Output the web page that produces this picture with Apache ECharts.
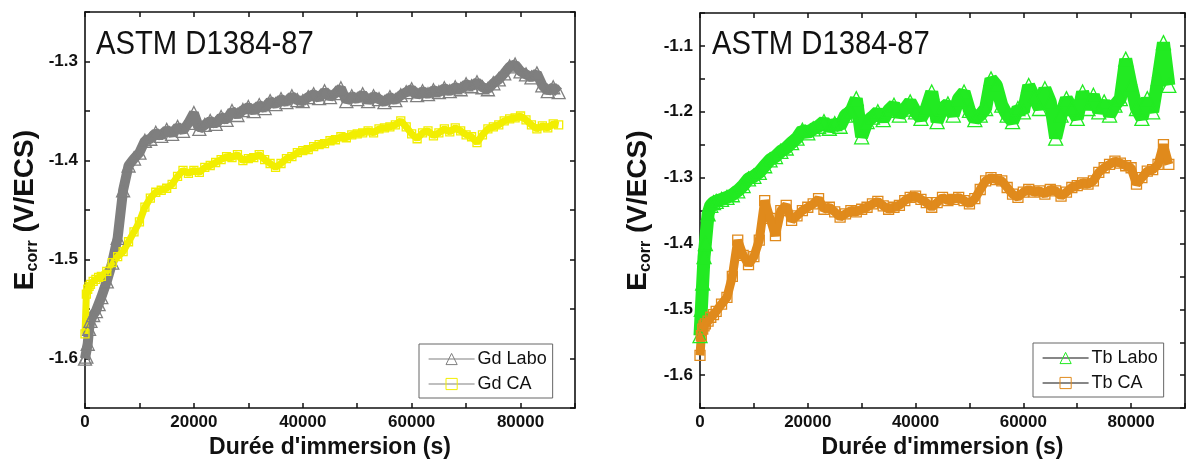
<!DOCTYPE html>
<html>
<head>
<meta charset="utf-8">
<script src="https://cdn.jsdelivr.net/npm/echarts@6/dist/echarts.min.js"></script>
<style>
html,body{margin:0;padding:0;background:#fff;}
#c{width:1188px;height:464px;}
</style>
</head>
<body>
<div id="c"></div>
<script>
// Time (s) of each sample
const times = [0,250,500,750,1000,1500,2000,2500,3000,
4000,5000,6000,7000,8000,9000,10000,11000,12000,13000,14000,15000,16000,17000,18000,19000,
20000,21000,22000,23000,24000,25000,26000,27000,28000,29000,30000,31000,32000,33000,34000,
35000,36000,37000,38000,39000,40000,41000,42000,43000,44000,45000,46000,47000,48000,49000,
50000,51000,52000,53000,54000,55000,56000,57000,58000,59000,60000,61000,62000,63000,64000,
65000,66000,67000,68000,69000,70000,71000,72000,73000,74000,75000,76000,77000,78000,79000,
80000,81000,82000,83000,84000,85000,86000,87000];

// Left chart: Ecorr (V/ECS)
const gdLabo = [-1.600,-1.598,-1.585,-1.570,-1.562,-1.556,-1.552,-1.545,-1.538,
-1.522,-1.503,-1.478,-1.430,-1.405,-1.398,-1.392,-1.380,-1.378,-1.372,-1.375,-1.369,-1.373,-1.366,-1.370,-1.362,
-1.352,-1.368,-1.364,-1.360,-1.363,-1.356,-1.359,-1.350,-1.354,-1.349,-1.346,-1.350,-1.344,-1.347,-1.340,
-1.343,-1.338,-1.341,-1.335,-1.339,-1.340,-1.336,-1.333,-1.337,-1.330,-1.336,-1.332,-1.327,-1.340,-1.335,
-1.338,-1.333,-1.340,-1.335,-1.338,-1.341,-1.336,-1.339,-1.334,-1.331,-1.328,-1.334,-1.330,-1.333,-1.329,
-1.331,-1.327,-1.330,-1.326,-1.328,-1.323,-1.325,-1.321,-1.326,-1.328,-1.322,-1.318,-1.312,-1.305,-1.303,
-1.310,-1.313,-1.316,-1.312,-1.324,-1.330,-1.326,-1.331];

const gdCA = [-1.575,-1.535,-1.530,-1.527,-1.525,-1.522,-1.520,-1.518,-1.517,
-1.512,-1.503,-1.497,-1.492,-1.482,-1.472,-1.462,-1.447,-1.438,-1.432,-1.430,-1.428,-1.424,-1.416,-1.410,-1.413,
-1.410,-1.412,-1.407,-1.405,-1.402,-1.399,-1.396,-1.397,-1.394,-1.400,-1.398,-1.397,-1.394,-1.399,-1.403,
-1.407,-1.403,-1.398,-1.396,-1.392,-1.390,-1.389,-1.386,-1.384,-1.383,-1.380,-1.379,-1.376,-1.377,-1.374,
-1.373,-1.372,-1.370,-1.372,-1.368,-1.367,-1.366,-1.364,-1.360,-1.366,-1.373,-1.378,-1.372,-1.370,-1.375,
-1.372,-1.368,-1.371,-1.367,-1.370,-1.374,-1.376,-1.382,-1.374,-1.368,-1.366,-1.364,-1.360,-1.358,-1.357,
-1.355,-1.359,-1.364,-1.368,-1.365,-1.367,-1.363,-1.364];

// Right chart: Ecorr (V/ECS)
const tbLabo = [-1.540,-1.500,-1.460,-1.420,-1.400,-1.355,-1.342,-1.338,-1.336,
-1.333,-1.330,-1.326,-1.320,-1.312,-1.302,-1.298,-1.292,-1.282,-1.273,-1.268,-1.260,-1.255,-1.247,-1.240,-1.228,
-1.232,-1.226,-1.222,-1.215,-1.225,-1.218,-1.222,-1.205,-1.200,-1.180,-1.238,-1.215,-1.208,-1.200,-1.212,
-1.198,-1.190,-1.205,-1.196,-1.185,-1.200,-1.210,-1.195,-1.170,-1.215,-1.195,-1.188,-1.205,-1.180,-1.170,
-1.198,-1.212,-1.205,-1.195,-1.150,-1.160,-1.190,-1.205,-1.215,-1.195,-1.200,-1.160,-1.178,-1.195,-1.165,
-1.185,-1.240,-1.205,-1.180,-1.195,-1.210,-1.170,-1.195,-1.175,-1.200,-1.185,-1.205,-1.190,-1.180,-1.120,
-1.160,-1.195,-1.210,-1.180,-1.200,-1.150,-1.095,-1.160];

const tbCA = [-1.570,-1.540,-1.530,-1.525,-1.522,-1.518,-1.512,-1.508,-1.503,
-1.492,-1.482,-1.450,-1.395,-1.418,-1.432,-1.420,-1.395,-1.335,-1.362,-1.388,-1.350,-1.342,-1.365,-1.358,-1.350,
-1.345,-1.340,-1.332,-1.348,-1.345,-1.352,-1.360,-1.355,-1.350,-1.352,-1.348,-1.345,-1.340,-1.336,-1.343,
-1.348,-1.345,-1.342,-1.335,-1.330,-1.328,-1.333,-1.338,-1.345,-1.338,-1.330,-1.335,-1.333,-1.330,-1.335,
-1.340,-1.332,-1.318,-1.305,-1.300,-1.303,-1.305,-1.315,-1.325,-1.330,-1.322,-1.318,-1.322,-1.320,-1.325,
-1.318,-1.320,-1.328,-1.322,-1.315,-1.312,-1.308,-1.310,-1.305,-1.292,-1.285,-1.280,-1.275,-1.278,-1.282,
-1.285,-1.310,-1.300,-1.290,-1.288,-1.280,-1.250,-1.280];

const xTickLabels = [0, 20000, 40000, 60000, 80000];
const leftYTickLabels = [-1.6, -1.5, -1.4, -1.3];
const rightYTickLabels = [-1.6, -1.5, -1.4, -1.3, -1.2, -1.1];
const titleText = 'ASTM D1384-87';
const xName = "Durée d'immersion (s)";

const FONT = '"Liberation Sans", Arial, sans-serif';
const pair = (ys) => times.map((t, i) => [t, ys[i]]);
const hasLabel = (list, v) => list.some(l => Math.abs(l - v) < 1e-6);

function xAxes(gi) {
  const common = {
    type: 'value', gridIndex: gi, min: 0, max: 90000, interval: 10000,
    splitLine: { show: false },
    axisLine: { show: true, onZero: false, lineStyle: { color: '#111', width: 1.6 } },
    axisTick: { show: true, inside: true, length: 5, lineStyle: { color: '#111', width: 1.5 } }
  };
  return [
    Object.assign({}, common, {
      position: 'bottom',
      name: xName, nameLocation: 'middle', nameGap: 25,
      nameTextStyle: { fontFamily: FONT, fontSize: 23, fontWeight: 'bold', color: '#111' },
      axisLabel: { margin: 6, fontFamily: FONT, fontSize: 17, fontWeight: 'bold', color: '#111',
        formatter: v => hasLabel(xTickLabels, v) ? String(v) : '' }
    }),
    Object.assign({}, common, { position: 'top', axisLabel: { show: false } })
  ];
}

function yAxes(gi, min, max, labels, gap) {
  const common = {
    type: 'value', gridIndex: gi, min: min, max: max, interval: 0.05,
    splitLine: { show: false },
    axisLine: { show: true, onZero: false, lineStyle: { color: '#111', width: 1.6 } },
    axisTick: { show: true, inside: true, length: 5, lineStyle: { color: '#111', width: 1.5 } }
  };
  return [
    Object.assign({}, common, {
      position: 'left',
      name: '{e|E}{s|corr}{e| (V/ECS)}', nameLocation: 'middle', nameGap: gap, nameRotate: 90,
      nameTextStyle: { color: '#111', rich: {
        e: { fontFamily: FONT, fontSize: 28, fontWeight: 'bold', color: '#111', lineHeight: 32 },
        s: { fontFamily: FONT, fontSize: 16, fontWeight: 'bold', color: '#111', verticalAlign: 'bottom', lineHeight: 32, padding: [12, 0, 0, 0] }
      } },
      axisLabel: { margin: 7, fontFamily: FONT, fontSize: 17, fontWeight: 'bold', color: '#111',
        formatter: v => hasLabel(labels, v) ? v.toFixed(1) : '' }
    }),
    Object.assign({}, common, { position: 'right', axisLabel: { show: false } })
  ];
}

function series(name, ys, xi, yi, color, symbol, size, lw) {
  return {
    name: name, type: 'line', xAxisIndex: xi, yAxisIndex: yi,
    data: pair(ys), symbol: symbol, symbolSize: size, showSymbol: true,
    animation: false,
    lineStyle: { color: color, width: lw },
    itemStyle: { color: 'rgba(255,255,255,0)', borderColor: color, borderWidth: 1.3 },
    emphasis: { disabled: true }
  };
}

function legend(names, left, top, lineColor) {
  return {
    data: names.map(n => ({ name: n, itemStyle: { borderWidth: 1 } })),
    orient: 'vertical', left: left, top: top,
    borderColor: '#666', borderWidth: 1, padding: [6, 6, 5, 9], itemGap: 7,
    itemWidth: 46, itemHeight: 14, selectedMode: false,
    lineStyle: { color: lineColor, width: 1.2 },
    textStyle: { fontFamily: FONT, fontSize: 18, color: '#111', padding: [0, 0, 0, -2] }
  };
}

const chart = echarts.init(document.getElementById('c'), null, { renderer: 'canvas' });
chart.setOption({
  animation: false,
  backgroundColor: '#fff',
  grid: [
    { left: 85, top: 12, width: 490, height: 399, show: false },
    { left: 700, top: 13, width: 489, height: 397, show: false }
  ],
  xAxis: xAxes(0).concat(xAxes(1)),
  yAxis: yAxes(0, -1.65, -1.25, leftYTickLabels, 44).concat(yAxes(1, -1.65, -1.05, rightYTickLabels, 46)),
  legend: [
    legend(['Gd Labo', 'Gd CA'], 419, 344, '#808080'),
    legend(['Tb Labo', 'Tb CA'], 1033, 343, '#111')
  ],
  series: [
    series('Gd Labo', gdLabo, 0, 0, '#7f7f7f', 'triangle', 13, 10),
    series('Gd CA', gdCA, 0, 0, '#f2ee00', 'rect', 8, 7),
    series('Tb Labo', tbLabo, 2, 2, '#22ea22', 'triangle', 14, 13),
    series('Tb CA', tbCA, 2, 2, '#e08a1c', 'rect', 10, 9)
  ],
  graphic: [
    { type: 'text', left: 96, top: 28, scaleX: 0.86, style: { text: titleText, font: '34px ' + FONT, fill: '#111' } },
    { type: 'text', left: 712, top: 28, scaleX: 0.86, style: { text: titleText, font: '34px ' + FONT, fill: '#111' } }
  ]
});
</script>
</body>
</html>
